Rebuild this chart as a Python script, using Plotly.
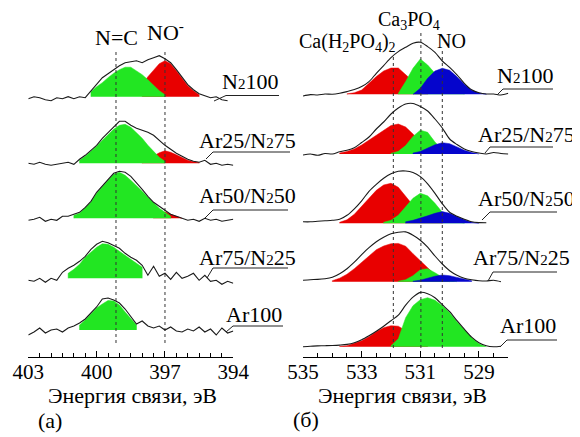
import plotly.graph_objects as go

W, H = 580, 437
OX, OY = 8, 8          # the page body margin shifts the figure; positions below are screen px
FONT = "Liberation Serif, Times New Roman, serif"
GREEN, RED, BLUE = "#22e622", "#e80000", "#0505cc"
SUB = '<span style="font-size:15px">{}</span>'

# ---------- data: panel (a), N 1s, energy grid 403 -> 394 eV, step 0.25 ----------
E_A = [round(403 - 0.25 * i, 2) for i in range(37)]
LABELS = ["N" + SUB.format(2) + "100", "Ar25/N" + SUB.format(2) + "75",
          "Ar50/N" + SUB.format(2) + "50", "Ar75/N" + SUB.format(2) + "25", "Ar100"]
BASE_A = [260, 193.4, 138.4, 78.4, 26.7]        # vertical stacking offsets

ENV_A1 = [-2, 0, -1, -3, -4, -1, -2, 0, -2, 0, -1, 6, 13, 19, 23, 27, 31, 34, 35, 36,
          34, 37, 39, 41, 38, 34, 27, 19, 12, 7, 3, 1, -1, 0, -3, -4]
ENV_A2 = [0, -1, 1, -1, -2, -1, 0, 1, -1, 4, 8, 13, 18, 25, 31, 37, 42, 42, 38, 35,
          33, 31, 28, 23, 18, 14, 10, 7, 4, 2, 1, 3, -1, 0, -2, -1, -2]
ENV_A3 = [-2, -1, 1, -3, -1, -2, 2, 2, 4, 6, 11, 17, 26, 32, 39, 45, 47, 46, 42, 36,
          29, 22, 16, 12, 8, 4, 2, 0, -2, -1, -3, 0, -2, -1, -3, -2, -1]
ENV_A4 = [-2, -3, 0, -4, 0, -2, 6, 10, 13, 17, 22, 29, 34, 37, 35.5, 33, 30, 25, 21, 18,
          13, 3, 12, 2, 5, -1, 6, 0, 2, 5, -2, 3, -3, -2, -6, -3, -5]
ENV_A5 = [-5, -2, 2, -3, 0, 1, -2, 2, 4, 7, 11, 17, 23, 31, 32, 30, 27, 21, 14, 6,
          9, 4, 2, 4, 0, 3, -1, -2, 1, -1, 3, -2, 1, -5, 2, -3, -1]

GREEN_A1 = [None] * 11 + [5, 10, 14, 19, 23.5, 27, 29.5, 29.5, 26, 22, 17, 11, 6, 2]
RED_A1 = [None] * 20 + [12, 20, 27, 33, 36, 33, 26, 18, 11, 6, 2]
GREEN_A2 = [None] * 9 + [3, 7, 12, 17, 23, 29, 34, 38, 39, 36, 31, 25, 18, 12, 6, 2]
RED_A2 = [None] * 20 + [2, 4, 7, 10.5, 12.5, 11, 8.5, 5.5, 3, 1.5, 0.8]
GREEN_A3 = [None] * 8 + [3, 5, 10, 16, 25, 31, 38, 44, 46, 43, 38, 33, 27, 21, 15, 10, 6, 2]
RED_A3 = [None] * 22 + [1, 3, 6.5, 4, 2, 0.5]
GREEN_A4 = [None] * 7 + [5, 9, 14, 21, 26, 31, 34.5, 34, 31, 27, 23, 19, 15, 11]
GREEN_A5 = [None] * 9 + [5, 10, 16, 22, 26, 29.5, 29, 25, 18, 11, 5]

# ---------- data: panel (б), O 1s, energy grid 535 -> 528 eV, step 0.25 ----------
E_B = [round(535 - 0.25 * j, 2) for j in range(29)]
BASE_B = [262.4, 202.7, 133.4, 75, 10]

ENV_B1 = [-1.7, -0.3, -0.7, 0.3, 0, 1, 2.7, 4.7, 7.7, 12.7, 21, 28.7, 36.7, 42.7, 47,
          51, 52, 47.7, 42, 33.3, 27, 19.5, 11, 4.5, 1.5, 0.3, 0.3, -0.7, 1]
ENV_B2 = [-1, 0, -1.3, 0.5, 0, 2.3, 3.7, 6.3, 11.5, 17, 25, 32, 40, 46, 50, 50.5, 47.5,
          43, 35, 26, 15, 9.5, 5, 2.5, 1, 0, 1.5, 0.5, 0]
ENV_B3 = [1.5, 1.5, 2, 2.5, 3, 4, 8, 14.5, 22.5, 32, 39, 45, 49.5, 52, 52.3, 50.8, 46.7,
          39.5, 30, 19.5, 11, 7, 4, 1.5, 0.7, 0.5]
ENV_B4 = [1.5, 2, 2.3, 3, 4.5, 8, 13, 19.5, 27, 34, 40, 44.5, 48, 49.5, 49.8, 46.5, 41.5,
          34.5, 25.7, 17.7, 11, 6.5, 3.5, 2, 1, 0.7, 1.5, 0]
ENV_B5 = [0, 0.5, 0.8, 1, 1.2, 1.6, 2.3, 4, 7, 11, 15.5, 20.5, 26, 31.5, 41.5, 49.5,
          54.3, 53, 49, 42, 35, 26, 17.5, 9.5, 4, 1, 0, 0.5]

RED_B1 = [None] * 6 + [0.5, 1.5, 4.3, 11, 17.7, 23.3, 26.3, 26.3, 20, 13, 6, 2]
GREEN_B1 = [None] * 13 + [1, 12.7, 26, 35.3, 29.3, 21, 12.7, 6, 2, 0.5]
BLUE_B1 = [None] * 15 + [0, 6, 16, 23.3, 26, 24, 17.5, 10, 4, 1.2, 0.3]
RED_B2 = [None] * 5 + [1, 2.5, 5, 9, 14, 19, 24, 28.5, 30, 27, 20, 12, 5.5, 2, 0.5]
GREEN_B2 = [None] * 12 + [0.6, 2.7, 8.5, 17.6, 23.8, 21.7, 12, 4.5, 1.1]
BLUE_B2 = [None] * 15 + [0.9, 2.6, 5.6, 9.2, 11.3, 10.3, 7.1, 3.7, 1.4, 0.5]
RED_B3 = [None] * 5 + [1, 3.5, 9, 17, 25.5, 33, 38.3, 40, 36, 27, 17, 9, 4, 1.5, 0.5]
GREEN_B3 = [None] * 11 + [1, 3, 8, 16.5, 25, 30, 27.5, 20, 11, 5, 1.5, 0.3]
BLUE_B3 = [None] * 14 + [1.5, 3, 5, 7.5, 10, 11.7, 10, 6.5, 3.5, 1, 0.3]
RED_B4 = [None] * 4 + [1, 3.5, 7.5, 13, 19.5, 26.5, 32, 35.7, 38, 38.3, 35.5, 28, 21,
                       14.5, 7, 2.5, 0.7]
GREEN_B4 = [None] * 13 + [0.5, 2, 6, 12, 13, 9, 4.5, 1.5, 0.3]
BLUE_B4 = [None] * 15 + [0.5, 1.5, 3.5, 5.5, 6.7, 6, 4.3, 2.5, 1]
RED_B5 = [None] * 5 + [0.5, 1, 3.5, 6, 10, 15, 19, 21, 20.5, 16, 10, 5, 2]
GREEN_B5 = [None] * 12 + [1, 8, 29, 41, 47, 49, 46.5, 41, 34, 25, 16.5, 9, 3, 0.5]

DOTS_A = [399.15, 397.0]
DOTS_B = [531.92, 530.98, 530.25]

fig = go.Figure()


def peak(grid, vals, base, color, xa, ya):
    pts = [(e, v) for e, v in zip(grid, vals) if v is not None]
    xs = [pts[0][0]] + [p[0] for p in pts] + [pts[-1][0]]
    ys = [base] + [base + p[1] for p in pts] + [base]
    fig.add_trace(go.Scatter(x=xs, y=ys, fill="toself", fillcolor=color, mode="lines",
                             line=dict(color=color, width=0.5), xaxis=xa, yaxis=ya,
                             hoverinfo="skip", showlegend=False))


def env(grid, vals, base, xa, ya, shape):
    fig.add_trace(go.Scatter(x=grid[:len(vals)], y=[base + v for v in vals], mode="lines",
                             line=dict(color="#1a1a1a", width=1.1, shape=shape,
                                       smoothing=0.8),
                             xaxis=xa, yaxis=ya, hoverinfo="skip", showlegend=False))


peaks_a = [[(RED_A1, RED), (GREEN_A1, GREEN)], [(RED_A2, RED), (GREEN_A2, GREEN)],
           [(RED_A3, RED), (GREEN_A3, GREEN)], [(GREEN_A4, GREEN)], [(GREEN_A5, GREEN)]]
peaks_b = [[(RED_B1, RED), (GREEN_B1, GREEN), (BLUE_B1, BLUE)],
           [(RED_B2, RED), (GREEN_B2, GREEN), (BLUE_B2, BLUE)],
           [(RED_B3, RED), (GREEN_B3, GREEN), (BLUE_B3, BLUE)],
           [(RED_B4, RED), (GREEN_B4, GREEN), (BLUE_B4, BLUE)],
           [(RED_B5, RED), (GREEN_B5, GREEN)]]

for k in range(5):
    for vals, c in peaks_a[k]:
        peak(E_A, vals, BASE_A[k], c, "x", "y")
    for vals, c in peaks_b[k]:
        peak(E_B, vals, BASE_B[k], c, "x2", "y2")

# dotted guide lines
for e, top in zip(DOTS_A, [306.7, 306.7]):
    fig.add_trace(go.Scatter(x=[e, e], y=[13.7, top], mode="lines", xaxis="x", yaxis="y",
                             line=dict(color="#333", width=1, dash="dot"),
                             hoverinfo="skip", showlegend=False))
for e, top in zip(DOTS_B, [299.7, 326.7, 306.7]):
    fig.add_trace(go.Scatter(x=[e, e], y=[8.7, top], mode="lines", xaxis="x2", yaxis="y2",
                             line=dict(color="#333", width=1, dash="dot"),
                             hoverinfo="skip", showlegend=False))

for k, vals in enumerate([ENV_A1, ENV_A2, ENV_A3, ENV_A4, ENV_A5]):
    env(E_A, vals, BASE_A[k], "x", "y", "linear")
for k, vals in enumerate([ENV_B1, ENV_B2, ENV_B3, ENV_B4, ENV_B5]):
    env(E_B, vals, BASE_B[k], "x2", "y2", "spline")


def P(x, y):
    return (x - OX) / W, 1 - (y - OY) / H


ann = []


def text(x, y, s, size=22):
    px, py = P(x, y)
    ann.append(dict(x=px, y=py, xref="paper", yref="paper", text=s, showarrow=False,
                    xanchor="center", yanchor="middle",
                    font=dict(family=FONT, size=size, color="black")))


shapes = []


def line(x0, y0, x1, y1):
    a, b = P(x0, y0)
    c, d = P(x1, y1)
    shapes.append(dict(type="line", xref="paper", yref="paper", x0=a, y0=b, x1=c, y1=d,
                       line=dict(color="#222", width=1)))


# spectrum labels with leader lines
lab_a = [(250.5, 81, 226, 95.5, 279, 214, 101), (247, 140.5, 213, 152, 290, 206, 159),
         (247, 195, 213, 210, 288, 205, 218), (247.5, 257.5, 213, 268, 288, 207, 278),
         (254, 314.5, 233, 326, 283, 226, 332)]
lab_b = [(525, 75.5, 503, 89, 553, 497, 95), (526, 134.5, 490, 147, 553, 485, 153),
         (526, 198.5, 490, 212, 557, 482, 220), (521, 257.5, 493, 272, 557, 488, 281),
         (527.5, 325, 507, 340, 557, 500, 347)]
for k in range(5):
    for tx, ty, ux0, uy, ux1, dx, dy in (lab_a[k], lab_b[k]):
        text(tx, ty, LABELS[k])
        line(ux0, uy, ux1, uy)
        line(dx, dy, ux0, uy)

text(116, 37.5, "N=C")
text(165.5, 31, "NO<sup>-</sup>")
text(409, 20.5, "Ca<sub>3</sub>PO<sub>4</sub>", 20)
text(348, 43, "Ca(H<sub>2</sub>PO<sub>4</sub>)<sub>2</sub>", 20)
text(451, 41, "NO", 20)
text(132, 395, "Энергия связи, эВ")
text(402, 395, "Энергия связи, эВ")
text(50, 420, "(а)")
text(306, 419, "(б)")

AX_Y = 356.7                                   # screen row of both energy axes
ydom = [1 - (AX_Y - OY) / H, 1 + OY / H]
axis_common = dict(showline=True, linecolor="black", linewidth=1.3, ticks="inside",
                   ticklen=6, tickwidth=1.2, tickcolor="black", showgrid=False,
                   zeroline=False, tickmode="linear", automargin=False,
                   ticklabelstandoff=-4,
                   tickfont=dict(family=FONT, size=21, color="black"))

fig.update_layout(
    width=W, height=H, margin=dict(l=0, r=0, t=0, b=0, autoexpand=False),
    paper_bgcolor="white", plot_bgcolor="white", showlegend=False,
    xaxis=dict(domain=[(28.3 - OX) / W, (233.3 - OX) / W], range=[403, 394], anchor="y",
               tick0=394, dtick=3,
               minor=dict(tickmode="linear", tick0=394, dtick=0.5, ticks="inside",
                          ticklen=4, tickcolor="black"), **axis_common),
    xaxis2=dict(domain=[(303 - OX) / W, (508.3 - OX) / W], range=[535, 528], anchor="y2",
                tick0=529, dtick=2,
                minor=dict(tickmode="linear", tick0=528, dtick=0.5, ticks="inside",
                           ticklen=4, tickcolor="black"), **axis_common),
    yaxis=dict(domain=[ydom[0], 1], range=[0, 356.7 - (ydom[1] - 1) * H], visible=False,
               anchor="x", automargin=False),
    yaxis2=dict(domain=[ydom[0], 1], range=[0, 356.7 - (ydom[1] - 1) * H], visible=False,
                anchor="x2", automargin=False),
    annotations=ann, shapes=shapes,
)

fig.write_html("out.html")
